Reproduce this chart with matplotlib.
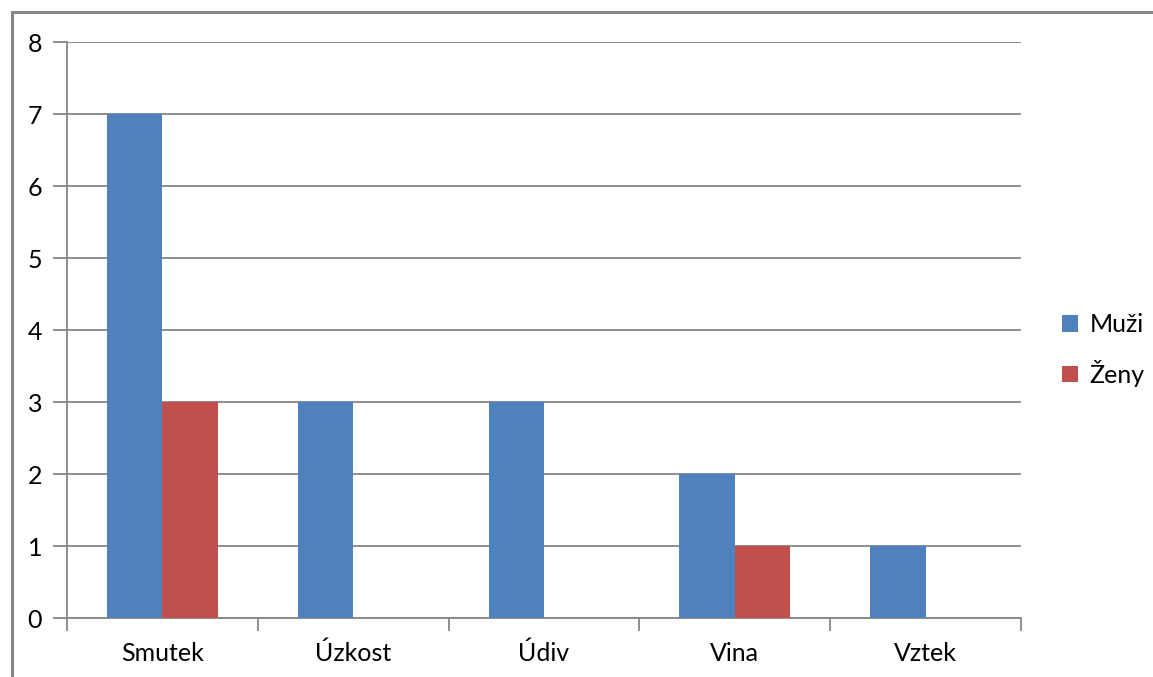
import matplotlib
matplotlib.use("Agg")
import matplotlib.pyplot as plt
import numpy as np
from matplotlib.patches import Rectangle

categories = ["Smutek", "Úzkost", "Údiv", "Vina", "Vztek"]
muzi = [7, 3, 3, 2, 1]
zeny = [3, 0, 0, 1, 0]
series_names = ["Muži", "Ženy"]
yticks = [0, 1, 2, 3, 4, 5, 6, 7, 8]

plt.rcParams['font.family'] = ['Lato', 'DejaVu Sans']

W, H = 1153, 677
fig = plt.figure(figsize=(W/100, H/100), dpi=100)
ax = fig.add_axes([67/W, 1-618/H, (1021-67)/W, (618-42)/H])

grid_c = "#868686"
blue = "#4F81BD"
red = "#C0504D"
x = np.arange(len(categories))
bw = 0.29
ax.bar(x - bw/2, muzi, bw, color=blue, label=series_names[0], zorder=3)
ax.bar(x + bw/2, zeny, bw, color=red, label=series_names[1], zorder=3)

fs = 18
ax.set_xlim(-0.5, len(categories) - 0.5)
ax.set_ylim(0, 8)
ax.set_yticks(yticks)
ax.set_yticklabels([str(v) for v in yticks], fontsize=fs)
ax.yaxis.grid(True, color=grid_c, linewidth=1.3, zorder=0)
ax.set_axisbelow(True)
ax.set_xticks(np.arange(len(categories) + 1) - 0.5)
ax.set_xticklabels([])
ax.set_xticks(x, minor=True)
ax.set_xticklabels(categories, minor=True, fontsize=fs)
ax.tick_params(axis='x', which='minor', length=0, pad=17)
ax.tick_params(axis='x', which='major', length=9, color=grid_c, width=1.3)
ax.tick_params(axis='y', length=10, color=grid_c, width=1.3, pad=8)
for s in ['top', 'right']:
    ax.spines[s].set_visible(False)
for s in ['left', 'bottom']:
    ax.spines[s].set_color(grid_c)
    ax.spines[s].set_linewidth(1.3)

leg = fig.legend(loc='center left', bbox_to_anchor=(1062/W, 1-350/H), frameon=False,
                 fontsize=fs, handlelength=0.65, handleheight=0.65, labelspacing=0.95,
                 handletextpad=0.45, borderpad=0, borderaxespad=0)

fig.patches.append(Rectangle((12/W, -0.1), 1.2, 1 - 12/H + 0.1, transform=fig.transFigure,
                             fill=False, edgecolor=grid_c, linewidth=2.2))

fig.savefig("out.png", dpi=100)
